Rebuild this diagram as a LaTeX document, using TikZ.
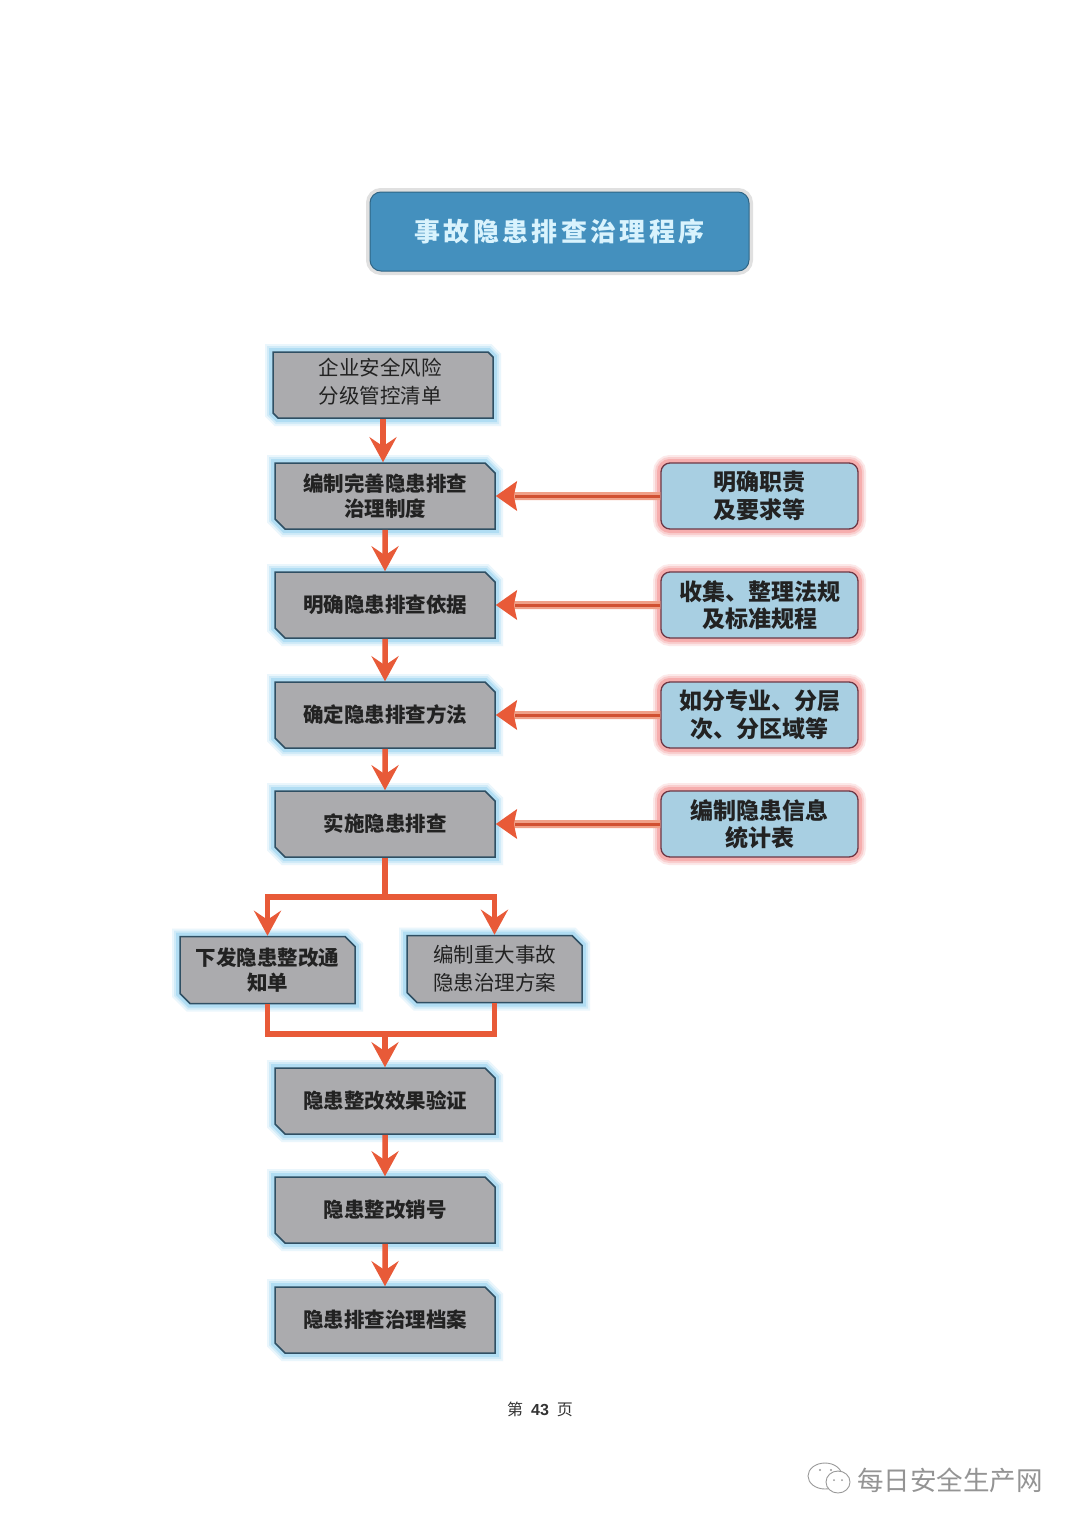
\documentclass[tikz,border=0pt]{standalone}
\usepackage{fontspec}
\setmainfont{Liberation Sans}
\newfontfamily\cjk{Noto Sans CJK SC}
\newfontfamily\cjktitle[LetterSpace=13]{Noto Sans CJK SC}
\usetikzlibrary{shapes.misc,arrows.meta}
\definecolor{greyfill}{HTML}{ABABAE}
\definecolor{greyedge}{HTML}{2F4F63}
\definecolor{bluehalo}{HTML}{6FC0EA}
\definecolor{paleblue}{HTML}{A8CFE2}
\definecolor{redhalo}{HTML}{F0696A}
\definecolor{titleblue}{HTML}{4490BE}
\definecolor{flow}{HTML}{E85A38}
\definecolor{flowpale}{HTML}{F0A088}
\definecolor{inktxt}{HTML}{222222}
\newcommand{\offsettext}[1]{\raisebox{-2pt}[0pt][0pt]{\parbox[c]{200pt}{\centering #1}}\kern6pt}
\tikzset{
  x=1pt,y=-1pt,
  halo/.style={preaction={draw=#1,line width=16pt,opacity=.14},
               preaction={draw=#1,line width=12pt,opacity=.20},
               preaction={draw=#1,line width=8pt,opacity=.32}},
  basebox/.style={chamfered rectangle,chamfered rectangle corners={north east,south west},
    chamfered rectangle xsep=5pt,chamfered rectangle ysep=5pt,
    halo=bluehalo,fill=greyfill,draw=greyedge,line width=1.5pt,
    text=inktxt,align=center,inner sep=0pt,font=\cjk\fontsize{20.5}{25.5}\selectfont},
  widebox/.style={basebox,minimum width=220pt,minimum height=66pt,font=\cjk\bfseries\fontsize{20.5}{25.5}\selectfont},
  lightbox/.style={basebox,minimum width=220pt,minimum height=66pt,font=\cjk\fontsize{20.5}{28}\selectfont},
  sidebox/.style={basebox,minimum width=175pt,minimum height=67pt},
  notebox/.style={rectangle,rounded corners=9pt,halo=redhalo,fill=paleblue,draw=greyedge!70!red,line width=1.3pt,
    minimum width=197pt,minimum height=66pt,text=inktxt,align=center,inner sep=0pt,
    font=\cjk\bfseries\fontsize{23}{27.5}\selectfont},
  titlebox/.style={rectangle,rounded corners=11pt,fill=titleblue,draw=titleblue!70!black,line width=1pt,
    preaction={draw=black!35,line width=5pt},preaction={draw=black!12,line width=8pt},
    minimum width=379pt,minimum height=79pt,text=white!85!cyan,align=center,inner sep=0pt,
    font=\cjktitle\bfseries\fontsize{26}{30}\selectfont},
  flowline/.style={draw=flow,line width=5.5pt},
  flowtip/.style={flowline,-{Stealth[length=25pt,width=27pt,inset=9pt]}},
  feedtip/.style={draw=flowpale,line width=8pt,-{Stealth[length=21pt,width=29pt,inset=3pt,color=flow]}},
  feedcore/.style={draw=flow!90!black,line width=3pt},
  plain/.style={inner sep=0pt}
}
\begin{document}
\begin{tikzpicture}
\useasboundingbox[fill=white] (0,0) rectangle (1080,1528);

\node[titlebox] (title) at (559.5,231.5) {事故隐患排查治理程序};

\node[lightbox] (b1) at (383,385) {\offsettext{企业安全风险\\分级管控清单}};
\node[widebox] (b2) at (385,496) {编制完善隐患排查\\治理制度};
\node[widebox] (b3) at (385,605) {明确隐患排查依据};
\node[widebox] (b4) at (385,715) {确定隐患排查方法};
\node[widebox] (b5) at (385,824) {实施隐患排查};
\node[sidebox,font=\cjk\bfseries\fontsize{20.5}{25.5}\selectfont] (b6) at (267.5,970) {下发隐患整改通\\知单};
\node[sidebox,font=\cjk\fontsize{20.5}{28}\selectfont] (b7) at (494.5,969) {编制重大事故\\隐患治理方案};
\node[widebox] (b8) at (385,1101) {隐患整改效果验证};
\node[widebox] (b9) at (385,1210) {隐患整改销号};
\node[widebox] (b10) at (385,1320) {隐患排查治理档案};

\node[notebox] (n2) at (759.5,496) {明确职责\\及要求等};
\node[notebox] (n3) at (759.5,605) {收集、整理法规\\及标准规程};
\node[notebox] (n4) at (759.5,715) {如分专业、分层\\次、分区域等};
\node[notebox] (n5) at (759.5,824) {编制隐患信息\\统计表};

% vertical flow
\draw[flowtip] (b1.south) -- (b2.north -| b1.south);
\draw[flowtip] (b2) -- (b3) ;
\draw[flowtip] (b3) -- (b4);
\draw[flowtip] (b4) -- (b5);
\draw[flowtip] (b8) -- (b9);
\draw[flowtip] (b9) -- (b10);

% feedback arrows
\foreach \i in {2,3,4,5}{
  \draw[feedtip] (n\i) -- (b\i);
  \draw[feedcore] (n\i.west) -- ([xshift=19pt]b\i.east);
}

% split
\coordinate (split) at (385,897);
\coordinate (merge) at (385,1034);
\draw[flowline] (b5) -- (split);
\draw[flowtip] (split) -| (b6);
\draw[flowtip] (split) -| (b7);
\draw[flowline] (b6) |- (merge);
\draw[flowline] (b7) |- (merge);
\draw[flowtip] (merge) -- (b8);

% footer
\node[plain,text=black!80] (pagetxt) at (540,1409) {\fontsize{16}{18}\selectfont{\cjk 第}\hspace{8pt}\textbf{43}\hspace{8pt}{\cjk 页}};
\node[plain,text=black!42,font=\cjk\fontsize{26.5}{28}\selectfont] (mark) at (950,1480) {每日安全生产网};

% watermark icon
\draw[black!40,line width=.9pt,fill=white] (825,1476) ellipse [x radius=17,y radius=13];
\draw[black!40,line width=.9pt,fill=white] (838,1482) ellipse [x radius=12,y radius=11];
\fill[black!40] (820,1470) circle (1.2) (831,1470) circle (1.2) (834,1480) circle (1) (842,1480) circle (1);
\end{tikzpicture}
\end{document}
